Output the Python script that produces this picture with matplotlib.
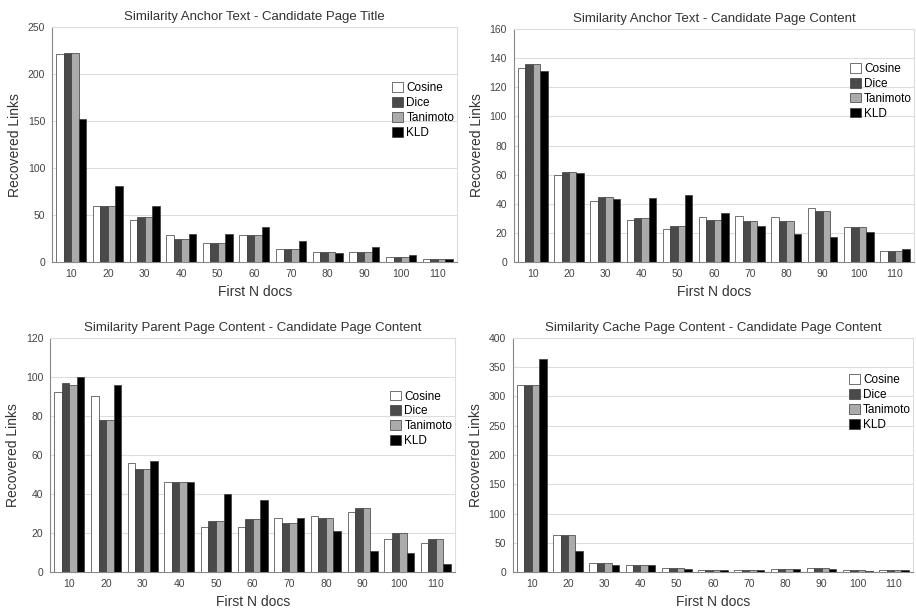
import numpy as np
import matplotlib.pyplot as plt

plt.rcParams['font.family'] = ['Liberation Sans', 'DejaVu Sans']

docs = [10, 20, 30, 40, 50, 60, 70, 80, 90, 100, 110]
measures = ['Cosine', 'Dice', 'Tanimoto', 'KLD']
colors = ['white', '#4a4a4a', '#ababab', 'black']

# Anchor Text - Candidate Page Title
title_cos = [221, 60, 45, 29, 20, 29, 14, 11, 11, 6, 3]
title_dice = [222, 60, 48, 25, 20, 29, 14, 11, 11, 6, 3]
title_tan = [222, 60, 48, 25, 20, 29, 14, 11, 11, 6, 3]
title_kld = [152, 81, 60, 30, 30, 37, 22, 10, 16, 8, 3]

# Anchor Text - Candidate Page Content
anchor_cos = [133, 60, 42, 29, 23, 31, 32, 31, 37, 24, 8]
anchor_dice = [136, 62, 45, 30, 25, 29, 28, 28, 35, 24, 8]
anchor_tan = [136, 62, 45, 30, 25, 29, 28, 28, 35, 24, 8]
anchor_kld = [131, 61, 43, 44, 46, 34, 25, 19, 17, 21, 9]

# Parent Page Content - Candidate Page Content
parent_cos = [92, 90, 56, 46, 23, 23, 28, 29, 31, 17, 15]
parent_dice = [97, 78, 53, 46, 26, 27, 25, 28, 33, 20, 17]
parent_tan = [96, 78, 53, 46, 26, 27, 25, 28, 33, 20, 17]
parent_kld = [100, 96, 57, 46, 40, 37, 28, 21, 11, 10, 4]

# Cache Page Content - Candidate Page Content
cache_cos = [320, 64, 16, 13, 8, 4, 3, 6, 8, 3, 4]
cache_dice = [320, 64, 16, 13, 7, 4, 3, 6, 8, 3, 4]
cache_tan = [320, 64, 16, 13, 7, 4, 3, 6, 8, 3, 4]
cache_kld = [364, 36, 12, 13, 6, 3, 3, 5, 6, 2, 3]

panels = [
    ('Similarity Anchor Text - Candidate Page Title',
     [title_cos, title_dice, title_tan, title_kld], 250, 50,
     [0.057, 0.573, 0.442, 0.383], 0.79),
    ('Similarity Anchor Text - Candidate Page Content',
     [anchor_cos, anchor_dice, anchor_tan, anchor_kld], 160, 20,
     [0.561, 0.573, 0.437, 0.380], 0.88),
    ('Similarity Parent Page Content - Candidate Page Content',
     [parent_cos, parent_dice, parent_tan, parent_kld], 120, 20,
     [0.055, 0.068, 0.442, 0.382], 0.80),
    ('Similarity Cache Page Content - Candidate Page Content',
     [cache_cos, cache_dice, cache_tan, cache_kld], 400, 50,
     [0.560, 0.068, 0.437, 0.382], 0.87),
]

fig = plt.figure(figsize=(9.16, 6.14), dpi=100)
x = np.arange(len(docs))
w = 0.205

for title, series, ymax, step, rect, legy in panels:
    ax = fig.add_axes(rect)
    for i, (vals, name, c) in enumerate(zip(series, measures, colors)):
        ax.bar(x + (i - 1.5) * w, vals, w, color=c, edgecolor='#3a3a3a',
               linewidth=0.5, label=name, zorder=3)
    ax.set_xlim(-0.52, len(docs) - 0.47)
    ax.set_ylim(0, ymax)
    ax.set_yticks(np.arange(0, ymax + 1, step))
    ax.set_xticks(x)
    ax.set_xticklabels(docs)
    ax.grid(axis='y', color='#dddddd', linewidth=0.8, zorder=0)
    ax.tick_params(labelsize=7.5, colors='#444444', length=0, pad=5)
    for s in ['top', 'right']:
        ax.spines[s].set_color('#dddddd')
    for s in ['left', 'bottom']:
        ax.spines[s].set_color('#888888')
    ax.set_title(title, fontsize=9.5, color='#333333', pad=5)
    ax.set_xlabel('First N docs', fontsize=10, color='#333333')
    ax.set_ylabel('Recovered Links', fontsize=10, color='#333333')
    ax.legend(loc='upper left', bbox_to_anchor=(0.825, legy), frameon=False,
              fontsize=8.5, handlelength=0.9, handleheight=0.9,
              handletextpad=0.3, labelspacing=0.25, borderpad=0)

fig.savefig('out.png', dpi=100)
